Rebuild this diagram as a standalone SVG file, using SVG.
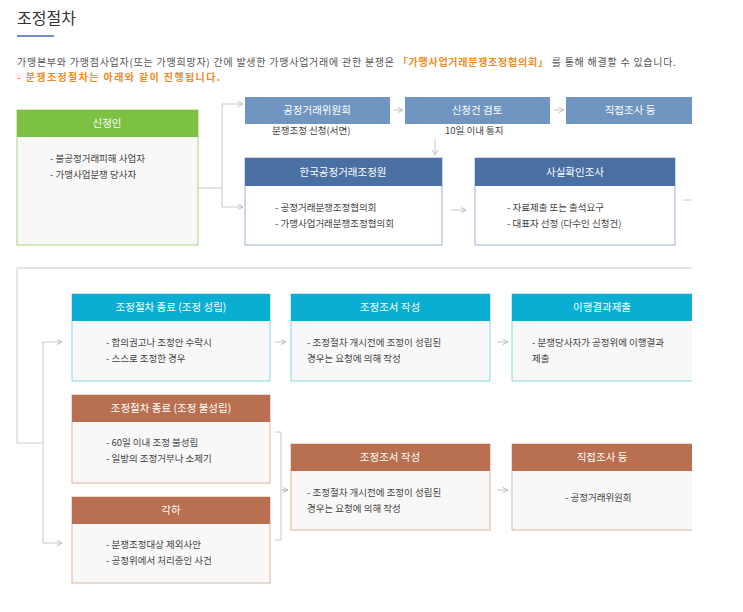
<svg xmlns="http://www.w3.org/2000/svg" width="743" height="612" viewBox="0 0 743 612">
<style>
text{font-family:"Noto Sans CJK KR","Noto Sans",sans-serif;}
.h{fill:#fff;font-size:10.5px;text-anchor:middle;}
.b{fill:#444;font-size:9.5px;}
.c{fill:none;stroke:#c8c8c8;stroke-width:1;}
.body{fill:#f8f8f8;}
</style>
<defs>
<marker id="a" markerWidth="6" markerHeight="6" refX="5" refY="3" orient="auto" markerUnits="userSpaceOnUse"><path d="M0,0.5 L5,3 L0,5.5" fill="none" stroke="#bbb" stroke-width="1"/></marker>
<clipPath id="cl"><rect x="0" y="0" width="692" height="612"/></clipPath>
</defs>
<rect width="743" height="612" fill="#fff"/>
<text x="17" y="24" font-size="16" fill="#333">조정절차</text>
<rect x="17" y="35" width="37" height="2" fill="#6f8fc4"/>
<text x="17" y="66" font-size="10" fill="#555" textLength="659" lengthAdjust="spacing">가맹본부와 가맹점사업자(또는 가맹희망자) 간에 발생한 가맹사업거래에 관한 분쟁은 <tspan fill="#f08a1c" font-weight="bold">「가맹사업거래분쟁조정협의회」</tspan> 를 통해 해결할 수 있습니다.</text>
<text x="17" y="81" font-size="10" fill="#f08a1c" font-weight="bold" textLength="203" lengthAdjust="spacing">- 분쟁조정절차는 아래와 같이 진행됩니다.</text>
<g clip-path="url(#cl)">
<g id="connectors">
<path class="c" d="M198,188 H222 M222,104 V207"/>
<path class="c" d="M222,104 H243" marker-end="url(#a)"/>
<path class="c" d="M222,207 H243" marker-end="url(#a)"/>
<path class="c" d="M394,110 H403" marker-end="url(#a)"/>
<path class="c" d="M554,110 H564" marker-end="url(#a)"/>
<path class="c" d="M435,139 V155" marker-end="url(#a)"/>
<path class="c" d="M451,210 H466" marker-end="url(#a)"/>
<path class="c" d="M683,200 H693"/>
<path d="M17,268 H692 M17,268 V443 H43" fill="none" stroke="#ddd" stroke-width="1.5"/>
<path class="c" d="M43,342 V543"/>
<path class="c" d="M43,342 H62" marker-end="url(#a)"/>
<path class="c" d="M43,543 H62" marker-end="url(#a)"/>
<path class="c" d="M275,342 H286" marker-end="url(#a)"/>
<path class="c" d="M497,342 H508" marker-end="url(#a)"/>
<path class="c" d="M275,432 H281 V540 H275 M281,490 H288"/>
<path class="c" d="M281,490 H288" marker-end="url(#a)"/>
<path class="c" d="M497,490 H508" marker-end="url(#a)"/>
</g>
<g id="n1"><rect x="17" y="110" width="181" height="135" class="body" stroke="#a9d67f"/><rect x="17" y="110" width="181" height="27" fill="#7dc142"/><text class="h" x="107" y="127">신청인</text><text class="b" x="50" y="162">- 불공정거래피해 사업자</text><text class="b" x="50" y="178">- 가맹사업분쟁 당사자</text></g>
<g id="n2"><rect x="245" y="97" width="145" height="27" fill="#7095c1"/><text class="h" x="317" y="114">공정거래위원회</text><text class="b" x="272" y="134">분쟁조정 신청(서면)</text></g>
<g id="n3"><rect x="405" y="97" width="145" height="27" fill="#7095c1"/><text class="h" x="477" y="114">신청건 검토</text><text class="b" x="445" y="134">10일 이내 통지</text></g>
<g id="n4"><rect x="566" y="97" width="127" height="27" fill="#7095c1"/><text class="h" x="630" y="114">직접조사 등</text></g>
<g id="n5"><rect x="245" y="158" width="197" height="87" fill="#fff" stroke="#9ab1d1"/><rect x="245" y="158" width="197" height="28" fill="#4a6fa3"/><text class="h" x="343" y="176">한국공정거래조정원</text><text class="b" x="275" y="211">- 공정거래분쟁조정협의회</text><text class="b" x="275" y="227">- 가맹사업거래분쟁조정협의회</text></g>
<g id="n6"><rect x="475" y="158" width="200" height="87" fill="#fff" stroke="#9ab1d1"/><rect x="475" y="158" width="200" height="28" fill="#4a6fa3"/><text class="h" x="575" y="176">사실확인조사</text><text class="b" x="507" y="211">- 자료제출 또는 출석요구</text><text class="b" x="507" y="227">- 대표자 선정 (다수인 신청건)</text></g>
<g id="n7"><rect x="72" y="294" width="198" height="87" class="body" stroke="#8dd6e8"/><rect x="72" y="294" width="198" height="27" fill="#0aaed3"/><text class="h" x="171" y="311">조정절차 종료 (조정 성립)</text><text class="b" x="106" y="346">- 합의권고나 조정안 수락시</text><text class="b" x="106" y="362">- 스스로 조정한 경우</text></g>
<g id="n8"><rect x="291" y="294" width="199" height="87" class="body" stroke="#8dd6e8"/><rect x="291" y="294" width="199" height="27" fill="#0aaed3"/><text class="h" x="390" y="311">조정조서 작성</text><text class="b" x="307" y="346">- 조정절차 개시전에 조정이 성립된</text><text class="b" x="307" y="362">경우는 요청에 의해 작성</text></g>
<g id="n9"><rect x="512" y="294" width="200" height="87" class="body" stroke="#8dd6e8"/><rect x="512" y="294" width="200" height="27" fill="#0aaed3"/><text class="h" x="602" y="311">이행결과제출</text><text class="b" x="532" y="346">- 분쟁당사자가 공정위에 이행결과</text><text class="b" x="532" y="362">제출</text></g>
<g id="n10"><rect x="72" y="395" width="198" height="88" class="body" stroke="#deb4a0"/><rect x="72" y="395" width="198" height="27" fill="#b87050"/><text class="h" x="171" y="412">조정절차 종료 (조정 불성립)</text><text class="b" x="106" y="446">- 60일 이내 조정 불성립</text><text class="b" x="106" y="462">- 일방의 조정거부나 소제기</text></g>
<g id="n11"><rect x="72" y="497" width="198" height="86" class="body" stroke="#deb4a0"/><rect x="72" y="497" width="198" height="27" fill="#b87050"/><text class="h" x="171" y="514">각하</text><text class="b" x="106" y="548">- 분쟁조정대상 제외사안</text><text class="b" x="106" y="564">- 공정위에서 처리중인 사건</text></g>
<g id="n12"><rect x="291" y="444" width="199" height="86" class="body" stroke="#deb4a0"/><rect x="291" y="444" width="199" height="27" fill="#b87050"/><text class="h" x="390" y="461">조정조서 작성</text><text class="b" x="307" y="496">- 조정절차 개시전에 조정이 성립된</text><text class="b" x="307" y="512">경우는 요청에 의해 작성</text></g>
<g id="n13"><rect x="512" y="444" width="200" height="86" class="body" stroke="#deb4a0"/><rect x="512" y="444" width="200" height="27" fill="#b87050"/><text class="h" x="602" y="461">직접조사 등</text><text class="b" x="565" y="501">- 공정거래위원회</text></g>
</g>
</svg>
